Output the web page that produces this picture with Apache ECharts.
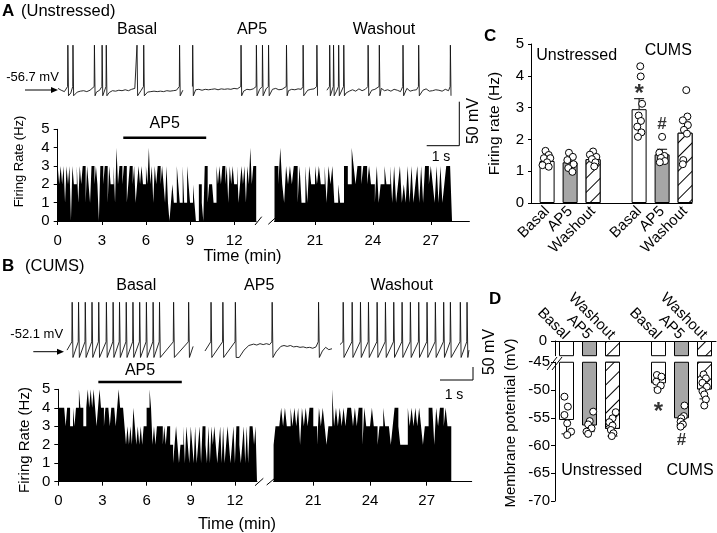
<!DOCTYPE html>
<html>
<head>
<meta charset="utf-8">
<script src="https://cdn.jsdelivr.net/npm/echarts@6.0.0/dist/echarts.min.js"></script>
<style>
html, body { margin: 0; padding: 0; background: #fff; }
#fig { width: 717px; height: 533px; }
</style>
</head>
<body>
<div id="fig"></div>
<script>
const FONT = '"Liberation Sans", Arial, Helvetica, sans-serif';

// ---------- firing-rate histograms, 0.1 min bins ----------
const binMin = 0.1;
const rightStart = 18.9;
const leftTicks = [0, 3, 6, 9, 12];
const rightTicks = [21, 24, 27];

const aLeftRate = [
  3,2,3,2,3,1,3,2,3,0,  3,2,2,3,1,3,2,3,3,1,  3,2,1,3,3,2,3,2,0,3,
  3,2,3,3,1,3,2,2,3,1,  4,2,3,3,2,3,3,1,2,3,  3,2,3,1,2,3,2,3,2,2,
  3,2,4,2,3,1,3,2,3,3,  2,3,2,1,3,1,0,1,2,1,  1,3,2,1,1,3,1,1,3,2,
  1,1,2,1,0,0,2,2,1,0,  3,3,1,2,2,2,1,1,3,2,  3,2,3,3,2,3,1,3,2,3,
  2,2,3,1,2,3,2,3,1,3,  2,4,2,3,3
];
const aRightRate = [
  3,3,2,4,2,1,3,2,3,2,  3,3,1,3,1,1,3,1,3,2,  2,3,2,3,2,2,3,1,3,2,
  3,1,1,2,1,1,3,3,2,2,  4,3,2,3,3,2,3,3,2,3,  2,2,1,3,1,2,2,3,2,2,
  3,1,3,1,2,3,1,2,1,3,  1,3,1,2,3,1,3,1,3,3,  2,3,2,1,3,1,3,1,2,3,
  3,3
];
const bLeftRate = [
  4,4,4,4,4,3,4,4,3,3,  4,3,4,4,5,4,4,3,3,4,  5,4,5,4,5,4,3,4,5,4,
  4,3,4,4,4,3,4,4,4,3,  4,5,4,4,4,3,2,3,2,3,  2,4,3,2,3,2,3,2,3,3,
  4,4,5,4,2,3,2,3,3,3,  3,2,3,2,3,3,2,2,1,2,  3,2,1,2,2,3,1,3,2,1,
  3,2,1,3,1,2,3,1,3,3,  2,1,3,1,3,2,3,2,1,2,  3,1,3,1,2,3,2,1,2,3,
  1,3,3,2,1,2,3,1,3,1,  3,3,3,2,3
];
const bRightRate = [
  2,3,3,3,4,3,4,3,3,4,  3,4,3,4,2,4,3,4,3,4,  4,3,3,2,4,3,4,3,2,3,
  3,5,3,4,3,4,3,4,3,4,  4,4,3,4,3,4,4,2,4,3,  3,3,4,3,3,2,3,3,4,3,
  3,3,2,3,4,4,3,2,2,2,  2,4,3,4,3,4,3,4,3,2,  3,3,4,4,4,2,4,3,4,4,
  3,4,3,3
];
const ap5A = [4.46, 10.1];   // min, drawn at 4.54 Hz
const ap5B = [2.72, 8.39];   // min, drawn at 5.4 Hz

// ---------- example traces (s, mV) ----------
const aBasalSpikes = [0.30, 0.46, 1.13, 1.37, 1.50, 2.46, 2.67, 3.79];
const aAp5Spikes = [4.20, 5.71, 6.19, 6.38, 6.57, 7.13, 7.65, 8.08];
const aWashSpikes = [8.48, 8.60, 8.76, 8.92, 9.68, 10.03, 10.77, 11.26, 12.25];
// baseline every 0.1 s
const aBasalBase = [
  -55,-57,-58.5,-57,-60,-61,-59,-58,-57.5,-58.5,
  -57,-55.5,-59,-57,-58,-57,-59.5,-57.5,-58,-57,
  -57.5,-56.5,-57.5,-56,-55,-59,-57,-58,-59,-58.5,
  -58,-58.5,-58,-58.5,-57.5,-58,-57.5,-57,-59,-57
];
const aAp5Base = [
  -56,-56.5,-56,-57,-56,-56.5,-56,-55.5,-56.5,-55.5,
  -56,-55.5,-56,-55,-55.5,-57,-58,-56,-56.5,-55.5,
  -57,-56,-57,-55.5,-56.5,-56,-55,-56.5,-56,-55.5,
  -57.5,-56,-56.5,-55.5,-56,-55,-57,-56,-55.5,-54.5
];
const aWashBase = [
  -57,-58,-59,-58,-57,-59,-60,-58,-56.5,-58,
  -55.5,-57.5,-56,-58.5,-57,-56,-58,-55,-57.5,-56.5,
  -58,-56,-57,-58.5,-56,-55,-58,-57,-56.5,-58,
  -57,-55.5,-58,-57.5,-56.5,-57,-58,-56,-57.5,-59
];
const bBasalSpikes = [0.37,0.57,0.78,0.99,1.20,1.44,1.65,1.85,2.06,2.27,2.48,2.69,2.90,3.10,3.54,4.01];
const bAp5Spikes = [4.71, 5.08, 5.47, 6.62, 8.07];
const bWashSpikes = [8.84,9.12,9.38,9.63,9.90,10.16,10.42,10.68,10.94,11.20,11.46,11.72,11.98,12.19,12.50,12.71];
const bBasalBase = [[0.22,-50],[4.16,-46]];
const bAp5Base = [[4.53,-51],[5.6,-58],[5.75,-50],[5.9,-45],[6.05,-43.5],[6.15,-44.5],[6.25,-43],[6.35,-44],
  [6.45,-43],[6.55,-44],[6.75,-52],[6.9,-46],[7.0,-45],[7.1,-46],[7.2,-45],[7.3,-46.5],[7.4,-46],[7.5,-47],
  [7.6,-46.5],[7.7,-47.5],[7.8,-47],[7.9,-48],[8.0,-46.5],[8.2,-51],[8.3,-47],[8.4,-49.5],[8.5,-48.5]];
const bWashBase = [[8.75,-44],[12.78,-50]];

// ---------- panel C: firing rate (Hz) ----------
const groups = ['Basal', 'AP5', 'Washout', 'Basal', 'AP5', 'Washout'];
const cMean = [1.32, 1.28, 1.38, 2.95, 1.53, 2.21];
const cSem = [0.06, 0.08, 0.07, 0.33, 0.16, 0.33];
const cDots = [
  [1.64, 1.51, 1.41, 1.41, 1.28, 1.19, 1.14],
  [1.58, 1.45, 1.35, 1.22, 1.10, 0.98],
  [1.62, 1.52, 1.45, 1.38, 1.28, 1.15],
  [4.30, 3.98, 3.12, 2.75, 2.58, 2.40, 2.22, 2.08],
  [2.08, 1.58, 1.48, 1.42, 1.32, 1.28],
  [3.55, 2.72, 2.60, 2.45, 2.30, 2.18, 1.35, 1.22]
];
const cJit = [
  [-0.07, 0.07, -0.14, 0.14, 0, -0.2, 0.07],
  [-0.05, 0.12, -0.12, 0.15, -0.08, 0.1],
  [0, -0.14, 0.14, -0.05, 0.1, 0.05],
  [0.05, 0.07, 0.13, -0.02, 0.08, -0.08, 0.1, -0.05],
  [0, -0.12, 0.1, -0.05, 0.12, -0.1],
  [0.05, 0.1, -0.1, 0.12, -0.05, 0.08, -0.08, -0.1]
];

// ---------- panel D: membrane potential (mV) ----------
const dMean = [-55.4, -56.4, -57.0, -48.8, -55.1, -49.9];
const dSem = [2.5, 1.1, 1.3, 0.8, 1.2, 1.7];
const dDots = [
  [-51.2, -53.0, -54.5, -56.0, -57.5, -58.1],
  [-53.9, -55.6, -56.2, -56.9, -57.5, -57.9],
  [-54.0, -55.1, -55.8, -56.4, -57.2, -57.8, -58.3],
  [-47.3, -47.6, -48.5, -49.2, -50.0],
  [-52.8, -54.7, -55.1, -55.7, -56.2, -56.6],
  [-47.2, -47.9, -48.7, -49.4, -50.2, -50.8, -51.7, -52.8]
];
const dJit = [
  [-0.09, 0.06, -0.09, 0.03, 0.2, 0.03],
  [0.16, 0.01, -0.06, 0.09, -0.13, -0.06],
  [0.14, 0, -0.14, 0, -0.07, 0.04, -0.03],
  [-0.07, 0.13, -0.1, 0.1, -0.04],
  [0.13, 0.1, -0.01, -0.04, 0.06, -0.04],
  [-0.04, 0.06, -0.09, 0.1, -0.09, -0.01, 0.06, -0.01]
];

const slots = [0, 1, 2, 4, 5, 6];

// ---------- helpers ----------
function uniform(base, t0) {
  return base.map((v, i) => [t0 + i * 0.1, v]);
}
function buildTrace(spikes, anchors, tp) {
  const pts = anchors.filter(([t]) => !spikes.some(s => t > s - tp.pre && t < s + tp.post));
  spikes.forEach(s => {
    pts.push([s, tp.thr], [s + tp.rise, tp.peak], [s + tp.fall, tp.trough]);
  });
  return pts.sort((a, b) => a[0] - b[0]);
}
const tplA = { thr: -53, peak: -8, trough: -63, rise: 0.008, fall: 0.028, pre: 0.04, post: 0.07 };
const tplB = { thr: -41, peak: 2, trough: -58, rise: 0.01, fall: 0.035, pre: 0.0, post: 0.06 };

const hatch = {
  symbol: 'rect', symbolSize: 1, color: '#000', backgroundColor: '#fff',
  dashArrayX: [1, 0], dashArrayY: [1, 9], rotation: -Math.PI / 4
};
function barStyle(i) {
  const k = i % 3;
  if (k === 0) return { color: '#fff', borderColor: '#000', borderWidth: 1 };
  if (k === 1) return { color: '#a6a6a6', borderColor: '#000', borderWidth: 1 };
  return { color: '#fff', borderColor: '#000', borderWidth: 1, decal: hatch };
}

const txt = { color: '#000', fontFamily: FONT };
const blackLine = { lineStyle: { color: '#000', width: 1 } };

const grids = [
  { left: 58, top: 37.8, width: 395, height: 64.4 },       // 0 A trace
  { left: 57.7, top: 129.3, width: 198.5, height: 91.7 },  // 1 A hist left
  { left: 274.5, top: 129.3, width: 194.9, height: 91.7 }, // 2 A hist right
  { left: 60, top: 294.9, width: 409.6, height: 73.6 },    // 3 B trace
  { left: 58.3, top: 389.3, width: 198.7, height: 92.4 },  // 4 B hist left
  { left: 273.6, top: 389.3, width: 198.1, height: 92.4 }, // 5 B hist right
  { left: 531, top: 44, width: 161, height: 159 },         // 6 C
  { left: 555, top: 341, width: 161, height: 14.7 },       // 7 D upper
  { left: 555, top: 362.25, width: 161, height: 138.75 }   // 8 D lower
];
const xRange = { 1: [0, 13.5], 2: [rightStart, 29], 4: [0, 13.5], 5: [rightStart, 29.38] };

function histX(gi, ticks) {
  return {
    type: 'value', gridIndex: gi, min: xRange[gi][0], max: xRange[gi][1],
    axisLine: { show: true, onZero: false, ...blackLine },
    axisTick: { show: true, customValues: ticks, length: 4, ...blackLine },
    axisLabel: { customValues: ticks, fontSize: 15, margin: 12, ...txt },
    splitLine: { show: false }
  };
}
function histY(gi) {
  return {
    type: 'value', gridIndex: gi, min: 0, max: 5, interval: 1,
    axisLine: { show: true, onZero: false, ...blackLine },
    axisTick: { show: true, length: 4, ...blackLine },
    axisLabel: { fontSize: 15, margin: 8, showMinLabel: true, showMaxLabel: true, ...txt },
    splitLine: { show: false }
  };
}
function hidden(gi, min, max) {
  return { type: 'value', gridIndex: gi, min: min, max: max, show: false };
}
// histogram as a filled outline: each 0.1-min bin is a flat top from its left to its right edge
function histArea(gi, rates, start) {
  const data = [];
  rates.forEach((v, i) => {
    data.push([start + i * binMin, v], [start + (i + 1) * binMin, v]);
  });
  return {
    type: 'line', xAxisIndex: gi, yAxisIndex: gi, data: data,
    showSymbol: false, silent: true, sampling: false,
    lineStyle: { width: 0, color: '#000' },
    areaStyle: { color: '#000', opacity: 1 }
  };
}
function traceLine(gi, data) {
  return {
    type: 'line', xAxisIndex: gi, yAxisIndex: gi, data: data, showSymbol: false,
    sampling: false, lineStyle: { color: '#111', width: 0.9 }, silent: true
  };
}
function errSeries(gi, mean, sem, dir) {
  return {
    type: 'custom', xAxisIndex: gi, yAxisIndex: gi, z: 3,
    data: mean.map((m, i) => [slots[i], m, sem[i]]),
    encode: { x: 0, y: 1 },
    renderItem: function (params, api) {
      const x = api.value(0), m = api.value(1), e = api.value(2);
      const p0 = api.coord([x, m]);
      const p1 = api.coord([x, m + dir * e]);
      const st = { stroke: '#000', lineWidth: 1 };
      return {
        type: 'group', children: [
          { type: 'line', shape: { x1: p0[0], y1: p0[1], x2: p1[0], y2: p1[1] }, style: st },
          { type: 'line', shape: { x1: p1[0] - 5, y1: p1[1], x2: p1[0] + 5, y2: p1[1] }, style: st }
        ]
      };
    }
  };
}
function dotSeries(gi, dots, jit) {
  const data = [];
  dots.forEach((arr, i) => arr.forEach((v, j) => data.push([slots[i] + jit[i][j], v])));
  return {
    type: 'scatter', xAxisIndex: gi, yAxisIndex: gi, data: data, symbolSize: 7, z: 4,
    itemStyle: { color: '#fff', borderColor: '#000', borderWidth: 1, opacity: 1 }, silent: true
  };
}
function markSeries(gi, items) {
  return {
    type: 'scatter', xAxisIndex: gi, yAxisIndex: gi, symbolSize: 0, z: 5, silent: true,
    data: items.map(it => ({
      value: it.pos,
      label: { show: true, position: 'inside', formatter: it.t, fontSize: it.size, fontWeight: 'bold', offset: it.off, ...txt }
    }))
  };
}

const chart = echarts.init(document.getElementById('fig'));

const option = {
  animation: false,
  backgroundColor: '#fff',
  textStyle: { fontFamily: FONT },
  grid: grids.map(g => ({ ...g, containLabel: false })),
  xAxis: [
    hidden(0, 0, 12.34),
    histX(1, leftTicks),
    histX(2, rightTicks),
    hidden(3, 0, 12.8),
    histX(4, leftTicks),
    histX(5, rightTicks),
    {
      type: 'value', gridIndex: 6, min: -0.7, max: 6.3,
      axisLine: { show: true, onZero: false, ...blackLine },
      axisTick: { show: false },
      axisLabel: { customValues: slots, rotate: 45, margin: 6, fontSize: 15, formatter: v => groups[slots.indexOf(v)], ...txt },
      splitLine: { show: false }
    },
    {
      type: 'value', gridIndex: 7, min: -0.5, max: 6.5, position: 'top',
      axisLine: { show: true, onZero: false, ...blackLine },
      axisTick: { show: false },
      axisLabel: { customValues: slots, rotate: 45, margin: 4, fontSize: 15, hideOverlap: false, formatter: v => groups[slots.indexOf(v)], ...txt },
      splitLine: { show: false }
    },
    hidden(8, -0.5, 6.5)
  ],
  yAxis: [
    hidden(0, -70, 0),
    histY(1),
    hidden(2, 0, 5),
    hidden(3, -70, 10),
    histY(4),
    hidden(5, 0, 5),
    {
      type: 'value', gridIndex: 6, min: 0, max: 5, interval: 1,
      axisLine: { show: true, onZero: false, ...blackLine },
      axisTick: { show: true, length: 3, ...blackLine },
      axisLabel: { fontSize: 15, margin: 7, showMinLabel: true, showMaxLabel: true, ...txt },
      splitLine: { show: false }
    },
    {
      type: 'value', gridIndex: 7, min: -10, max: 0, interval: 10,
      axisLine: { show: true, onZero: false, ...blackLine },
      axisTick: { show: true, customValues: [0], length: 4, ...blackLine },
      axisLabel: { show: false },
      splitLine: { show: false }
    },
    {
      type: 'value', gridIndex: 8, min: -70, max: -45, interval: 5,
      axisLine: { show: true, onZero: false, ...blackLine },
      axisTick: { show: true, length: 4, ...blackLine },
      axisLabel: { fontSize: 15, margin: 5, showMinLabel: true, showMaxLabel: true, ...txt },
      splitLine: { show: false }
    }
  ],
  series: [
    traceLine(0, buildTrace(aBasalSpikes, uniform(aBasalBase, 0), tplA)),
    traceLine(0, buildTrace(aAp5Spikes, uniform(aAp5Base, 4.2), tplA)),
    traceLine(0, buildTrace(aWashSpikes, uniform(aWashBase, 8.4), tplA)),
    histArea(1, aLeftRate, 0),
    histArea(2, aRightRate, rightStart),
    traceLine(3, buildTrace(bBasalSpikes, bBasalBase, tplB)),
    traceLine(3, buildTrace(bAp5Spikes, bAp5Base, tplB)),
    traceLine(3, buildTrace(bWashSpikes, bWashBase, tplB)),
    histArea(4, bLeftRate, 0),
    histArea(5, bRightRate, rightStart),
    {
      type: 'bar', xAxisIndex: 6, yAxisIndex: 6, barWidth: 15, z: 2, silent: true,
      data: cMean.map((v, i) => ({ value: [slots[i], v], itemStyle: barStyle(i) }))
    },
    errSeries(6, cMean, cSem, 1),
    dotSeries(6, cDots, cJit),
    markSeries(6, [
      { t: '*', pos: [4, 3.55], size: 24, off: [0, 4] },
      { t: '#', pos: [5, 2.48], size: 17, off: [0, 0] }
    ]),
    {
      type: 'bar', xAxisIndex: 7, yAxisIndex: 7, barWidth: 15, z: 2, silent: true,
      data: dMean.map((v, i) => ({ value: [slots[i], v], itemStyle: barStyle(i) }))
    },
    {
      type: 'bar', xAxisIndex: 8, yAxisIndex: 8, barWidth: 15, z: 2, silent: true,
      data: dMean.map((v, i) => ({ value: [slots[i], v], itemStyle: barStyle(i) }))
    },
    errSeries(8, dMean, dSem, -1),
    dotSeries(8, dDots, dJit),
    markSeries(8, [
      { t: '*', pos: [4, -53.3], size: 24, off: [0, 4] },
      { t: '#', pos: [5, -59.0], size: 17, off: [0, 0] }
    ])
  ]
};
chart.setOption(option);

// ---------- annotations ----------
function T(text, x, y, o) {
  o = o || {};
  return {
    type: 'text', x: x, y: y, rotation: o.rot || 0, z: 20, silent: true,
    style: {
      text: text, fill: '#000',
      font: (o.bold ? 'bold ' : '') + (o.size || 15) + 'px ' + FONT,
      textAlign: o.align || 'center', textVerticalAlign: o.va || 'middle',
      align: o.align || 'center', verticalAlign: o.va || 'middle'
    }
  };
}
function L(x1, y1, x2, y2, w) {
  return { type: 'line', z: 20, silent: true, shape: { x1, y1, x2, y2 }, style: { stroke: '#000', lineWidth: w || 1 } };
}
function P(points) {
  return { type: 'polyline', z: 20, silent: true, shape: { points: points }, style: { stroke: '#000', lineWidth: 1, fill: null } };
}
function arrow(x1, x2, y) {
  return [L(x1, y, x2 - 5, y), { type: 'polygon', z: 20, silent: true, shape: { points: [[x2, y], [x2 - 7, y - 3], [x2 - 7, y + 3]] }, style: { fill: '#000' } }];
}
const R90 = Math.PI / 2;
const a1 = chart.convertToPixel({ gridIndex: 1 }, [ap5A[0], 4.54]);
const a2 = chart.convertToPixel({ gridIndex: 1 }, [ap5A[1], 4.54]);
const b1 = chart.convertToPixel({ gridIndex: 4 }, [ap5B[0], 5.4]);
const b2 = chart.convertToPixel({ gridIndex: 4 }, [ap5B[1], 5.4]);
const dZero = chart.convertToPixel({ gridIndex: 7 }, [-0.5, 0]);

const gfx = [
  // panel A
  T('A', 2, 11, { bold: true, size: 17, align: 'left' }),
  T('(Unstressed)', 21, 11, { size: 16.5, align: 'left' }),
  T('Basal', 137, 29.5, { size: 16 }),
  T('AP5', 252, 29.5, { size: 16 }),
  T('Washout', 384, 29.5, { size: 16 }),
  T('-56.7 mV', 32.5, 77.7, { size: 13 }),
  ...arrow(25, 58, 90),
  P([[426.7, 145.7], [459.3, 145.7], [459.3, 101.7]]),
  T('50 mV', 474, 121, { size: 16, rot: R90 }),
  T('1 s', 441, 157.5, { size: 14 }),
  L(a1[0], a1[1], a2[0], a2[1], 2.5),
  T('AP5', (a1[0] + a2[0]) / 2, 123.5, { size: 16 }),
  T('Time (min)', 242.5, 256.5, { size: 16.5 }),
  T('Firing Rate (Hz)', 19.5, 161.5, { size: 13, rot: R90 }),
  L(255, 225, 261.7, 216.7), L(268.3, 224.3, 276.7, 216.7),
  // panel B
  T('B', 2, 266, { bold: true, size: 17, align: 'left' }),
  T('(CUMS)', 25, 266.5, { size: 16.5, align: 'left' }),
  T('Basal', 136.3, 285.8, { size: 16 }),
  T('AP5', 259.2, 285.8, { size: 16 }),
  T('Washout', 401.7, 285.8, { size: 16 }),
  T('-52.1 mV', 36.7, 334.5, { size: 13 }),
  ...arrow(33.3, 64, 351.7),
  P([[440, 380], [473, 380], [473, 367]]),
  T('50 mV', 490, 352, { size: 16, rot: R90 }),
  T('1 s', 454, 395, { size: 14 }),
  L(b1[0], b1[1], b2[0], b2[1], 2.5),
  T('AP5', 140, 370.7, { size: 16 }),
  T('Time (min)', 237, 524, { size: 16.5 }),
  T('Firing Rate (Hz)', 25, 440, { size: 15, rot: R90 }),
  L(255, 485.7, 263.3, 478.3), L(266.7, 485, 276.7, 476.7),
  // panel C
  T('C', 484, 36, { bold: true, size: 17, align: 'left' }),
  T('Firing rate (Hz)', 495, 123.5, { size: 15.5, rot: R90 }),
  T('Unstressed', 576.7, 55.8, { size: 16 }),
  T('CUMS', 668.3, 50.8, { size: 16 }),
  // panel D
  T('D', 489, 299, { bold: true, size: 17, align: 'left' }),
  T('0', dZero[0] - 8, dZero[1], { size: 15, align: 'right' }),
  T('Membrane potential (mV)', 511, 423, { size: 15, rot: R90 }),
  T('Unstressed', 601.7, 470.8, { size: 16 }),
  T('CUMS', 690, 470.8, { size: 16 }),
  L(547, 370, 557, 357), L(552, 370, 562, 357)
];
chart.setOption({ graphic: gfx });

window.addEventListener('resize', function () { chart.resize(); });
</script>
</body>
</html>
